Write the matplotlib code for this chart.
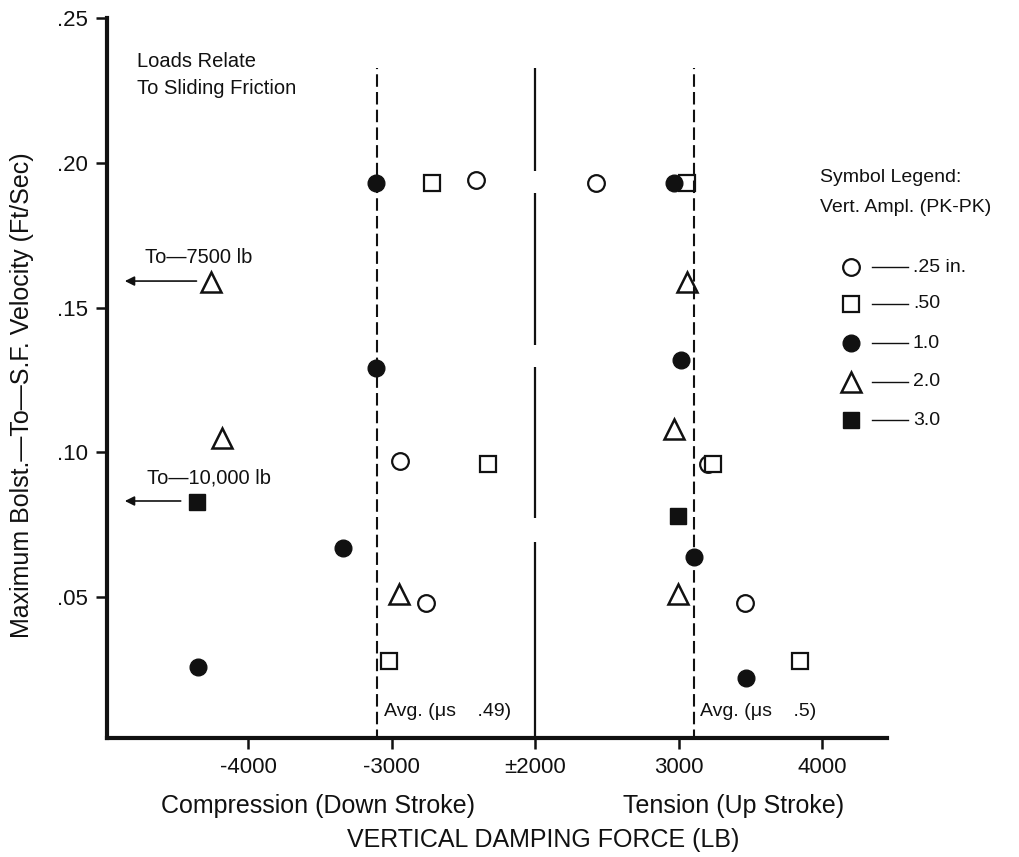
import numpy as np
import matplotlib
matplotlib.use("Agg")
import matplotlib.pyplot as plt
from matplotlib.lines import Line2D

plt.rcParams['font.family'] = ['Liberation Sans', 'DejaVu Sans']

# damping force (lb) vs max bolster-to-side-frame velocity (ft/sec), per vertical amplitude
amp_025_force = [-2411, -2941, -2760, 2425, 3206, 3463]
amp_025_vel = [0.194, 0.097, 0.048, 0.193, 0.096, 0.048]

amp_050_force = [-2718, -2328, -3017, 3059, 3240, 3847]
amp_050_vel = [0.193, 0.096, 0.028, 0.193, 0.096, 0.028]

amp_10_force = [-3108, -3108, -3338, -4348, 2969, 3017, 3108, 3470]
amp_10_vel = [0.193, 0.129, 0.067, 0.026, 0.193, 0.132, 0.064, 0.022]

amp_20_force = [-4258, -4181, -2948, 3059, 2969, 2997]
amp_20_vel = [0.159, 0.105, 0.051, 0.159, 0.108, 0.051]

amp_30_force = [-4355, 2997]
amp_30_vel = [0.083, 0.078]

avg_force = [-3100, 3105]
avg_labels = ['Avg. (\u03bcs    .49)', 'Avg. (\u03bcs    .5)']

xtick_vals = [-4000, -3000, 2000, 3000, 4000]
xtick_labels = ['-4000', '-3000', '\u00b12000', '3000', '4000']
ytick_vals = [0.05, 0.10, 0.15, 0.20, 0.25]
ytick_labels = ['.05', '.10', '.15', '.20', '.25']

legend_labels = ['.25 in.', '.50', '1.0', '2.0', '3.0']


# broken force axis: -2000..+2000 is cut out
def fwd(x):
    x = np.asarray(x, dtype=float)
    return np.where(x < 0, np.minimum(x, -2000), np.maximum(x, 2000) - 4000)


def inv(u):
    u = np.asarray(u, dtype=float)
    return np.where(u <= -2000, u, u + 4000)


fig = plt.figure(figsize=(10.19, 8.57), dpi=100)
ax = fig.add_axes([107 / 1019, 1 - 738 / 857, 780 / 1019, 719.7 / 857])
ax.set_xscale('function', functions=(fwd, inv))

ink = '#111111'
ms = 12
ax.plot(amp_025_force, amp_025_vel, 'o', ms=ms, mfc='white', mec=ink, mew=1.6, ls='none')
ax.plot(amp_050_force, amp_050_vel, 's', ms=ms - 1, mfc='white', mec=ink, mew=1.6, ls='none')
ax.plot(amp_10_force, amp_10_vel, 'o', ms=ms, mfc=ink, mec=ink, ls='none')
ax.plot(amp_20_force, amp_20_vel, '^', ms=ms + 2, mfc='white', mec=ink, mew=1.8, ls='none')
ax.plot(amp_30_force, amp_30_vel, 's', ms=ms - 1, mfc=ink, mec=ink, ls='none')

# average lines and the broken centre line
for xv, lab in zip(avg_force, avg_labels):
    ax.vlines(xv, 0, 0.2328, colors=ink, lw=1.5, linestyles=(0, (6, 2.5)))
    ax.text(xv + 45, 0.0105, lab, fontsize=14, color=ink, va='center', ha='left')

seg_lo = [0.0, 0.0773, 0.1371, 0.1972]
seg_hi = [0.0690, 0.1295, 0.1896, 0.2328]
ax.vlines([2000] * 4, seg_lo, seg_hi, colors=ink, lw=1.6)

# off-scale arrows
ax.annotate('', xy=(-4878, 0.1592), xytext=(-4340, 0.1592),
            arrowprops=dict(arrowstyle='-|>', color=ink, lw=1.2, mutation_scale=14))
ax.text(-4718, 0.1675, 'To\u20147500 lb', fontsize=14.5, color=ink, va='center', ha='left')
ax.annotate('', xy=(-4878, 0.0832), xytext=(-4450, 0.0832),
            arrowprops=dict(arrowstyle='-|>', color=ink, lw=1.2, mutation_scale=14))
ax.text(-4704, 0.0912, 'To\u201410,000 lb', fontsize=14.5, color=ink, va='center', ha='left')

ax.text(-4774, 0.2304, 'Loads Relate\nTo Sliding Friction', fontsize=14.5, color=ink,
        va='center', ha='left', linespacing=1.5)

ax.set_xlim(-4983, 4453)
ax.set_ylim(0.0013, 0.25)
ax.set_xticks(xtick_vals)
ax.set_xticklabels(xtick_labels)
ax.set_yticks(ytick_vals)
ax.set_yticklabels(ytick_labels)
ax.minorticks_off()
ax.tick_params(axis='both', labelsize=16, colors=ink, width=1.8, length=8, pad=6)

for s in ['top', 'right']:
    ax.spines[s].set_visible(False)
for s in ['left', 'bottom']:
    ax.spines[s].set_linewidth(3)
    ax.spines[s].set_color(ink)

ax.set_ylabel('Maximum Bolst.\u2014To\u2014S.F. Velocity (Ft/Sec)', fontsize=18, color=ink)
ax.yaxis.set_label_coords(-0.094, 0.4766)

fig.text(318 / 1019, 1 - 806 / 857, 'Compression (Down Stroke)', fontsize=18, color=ink,
         ha='center', va='center')
fig.text(734 / 1019, 1 - 806 / 857, 'Tension (Up Stroke)', fontsize=18, color=ink,
         ha='center', va='center')
fig.text(543 / 1019, 1 - 840 / 857, 'VERTICAL DAMPING FORCE (LB)', fontsize=18, color=ink,
         ha='center', va='center')

# symbol legend, drawn by hand
fig.text(820 / 1019, 1 - 178 / 857, 'Symbol Legend:', fontsize=14, color=ink, va='center')
fig.text(820 / 1019, 1 - 207 / 857, 'Vert. Ampl. (PK-PK)', fontsize=14, color=ink, va='center')
leg_styles = [dict(marker='o', mfc='white', mew=1.6, ms=ms),
              dict(marker='s', mfc='white', mew=1.6, ms=ms - 1),
              dict(marker='o', mfc=ink, ms=ms),
              dict(marker='^', mfc='white', mew=1.8, ms=ms + 2),
              dict(marker='s', mfc=ink, ms=ms - 1)]
leg_rows = [267, 304, 343, 382, 420]
for lab, st, yp in zip(legend_labels, leg_styles, leg_rows):
    yf = 1 - yp / 857
    fig.add_artist(Line2D([851 / 1019], [yf], ls='none', mec=ink, color=ink,
                          transform=fig.transFigure, **st))
    fig.add_artist(Line2D([872 / 1019, 908 / 1019], [yf, yf], color=ink, lw=1.0,
                          transform=fig.transFigure))
    fig.text(913 / 1019, yf, lab, fontsize=14, color=ink, va='center')

fig.savefig('out.png', dpi=100)
